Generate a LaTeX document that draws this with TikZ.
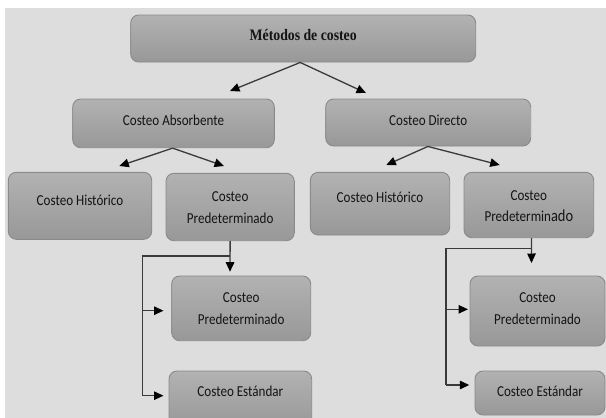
\documentclass[tikz,border=0pt]{standalone}
\usepackage{fontspec}
\setmainfont{Carlito}[FakeStretch=0.86]
\newfontfamily\titlefont{Liberation Serif}[FakeStretch=0.86]
\usetikzlibrary{arrows.meta}
\definecolor{bgc}{HTML}{DDDDDD}
\definecolor{boxtop}{HTML}{B2B2B2}
\definecolor{boxbot}{HTML}{989898}
\definecolor{boxline}{HTML}{8A8A8A}
\definecolor{linec}{HTML}{3A3A3A}
\definecolor{txtc}{HTML}{141414}
\tikzset{
  box/.style={draw=boxline, line width=0.9pt, rounded corners=8pt, top color=boxtop, bottom color=boxbot, inner sep=0pt},
  lbl/.style={text=txtc, font=\fontsize{15.2}{21.6}\selectfont, align=center, inner sep=0pt},
  conn/.style={draw=linec, line width=1.3pt, -{Triangle[length=9.5pt,width=8.5pt,color=black]}},
  plain/.style={draw=linec, line width=1.3pt}
}
\newcommand{\mybox}[7]{%
  \node[box, minimum width={#4-#2}, minimum height={#5-#3}] (#1) at ({(#2+#4)/2},{(#3+#5)/2}) {};
  \node[lbl] (#1t) at ({(#2+#4)/2},#6) {#7};}
\begin{document}
\begin{tikzpicture}[x=1pt,y=-1pt]
\useasboundingbox (0,0) rectangle (606,418);
\fill[bgc] (5,8) rectangle (606,418);
\begin{scope}
\clip (0,0) rectangle (606,418);
\mybox{title}{130.7}{15}{475.7}{62}{35}{\titlefont\bfseries\fontsize{16}{20}\selectfont Métodos de costeo}
\mybox{abs}{72.7}{99}{274.3}{147.7}{120}{Costeo Absorbente}
\mybox{dir}{325.7}{99}{530.7}{146}{120}{Costeo Directo}
\mybox{hA}{8.3}{172.3}{151.7}{239.3}{200}{Costeo Histórico}
\mybox{pA}{166}{173.3}{294.3}{240.7}{207.5}{Costeo\\Predeterminado}
\mybox{hB}{310.3}{172.3}{449.7}{235}{197}{Costeo Histórico}
\mybox{pB}{464}{172.3}{593.7}{237.7}{206.3}{Costeo\\Predetermin{\fontsize{16.8}{21.6}\selectfont ado}}
\mybox{pC}{171.7}{276}{310.7}{340.7}{308.8}{Costeo\\Predeterminado}
\mybox{eC}{169}{371}{311.7}{428}{391.7}{Costeo Estándar}
\mybox{pD}{470}{276}{605}{346}{308.8}{Costeo\\Predeterminado}
\mybox{eD}{475}{371}{605}{415}{391.7}{Costeo Estándar}
\end{scope}
% tips and junctions
\coordinate (t1) at (230,91);
\coordinate (t2) at (366,93);
\coordinate (t3) at (119.3,166);
\coordinate (t4) at (224,166);
\coordinate (t5) at (386.3,165);
\coordinate (t6) at (499.7,165);
\draw[conn] ([xshift=-3pt]title.south) -- (t1);
\draw[conn] ([xshift=-3pt]title.south) -- (t2);
\draw[conn] ([xshift=-0.8pt]abs.south) -- (t3);
\draw[conn] ([xshift=-0.8pt]abs.south) -- (t4);
\draw[conn] ([xshift=-0.3pt]dir.south) -- (t5);
\draw[conn] ([xshift=-0.3pt]dir.south) -- (t6);
% left bracket
\coordinate (la) at (230,256);
\coordinate (lb) at (141.7,256);
\coordinate (lc) at (142.7,256);
\coordinate (ld) at (142.7,310.7);
\coordinate (le) at (142.7,395.7);
\coordinate (lpC) at (163.5,310.7);
\coordinate (leC) at (163.5,395.7);
\coordinate (ltip) at (230,271.7);
\draw[conn] (pA.south) -- (ltip);
\draw[plain] (lb) -- (la);
\draw[plain] (lc) -- (le);
\draw[conn] (ld) -- (lpC);
\draw[conn] (le) -- (leC);
% right bracket
\coordinate (ra) at (531.5,248.3);
\coordinate (rb) at (445,248.3);
\coordinate (rc) at (446,248.3);
\coordinate (rd) at (446,309.3);
\coordinate (re) at (446,385);
\coordinate (rpD) at (468,309.3);
\coordinate (reD) at (469.3,385);
\coordinate (rtip) at (531.5,263);
\draw[conn] ([xshift=2.6pt]pB.south) -- (rtip);
\draw[plain] (rb) -- (ra);
\draw[plain] (rc) -- (re);
\draw[conn] (rd) -- (rpD);
\draw[conn] (re) -- (reD);
\end{tikzpicture}
\end{document}
